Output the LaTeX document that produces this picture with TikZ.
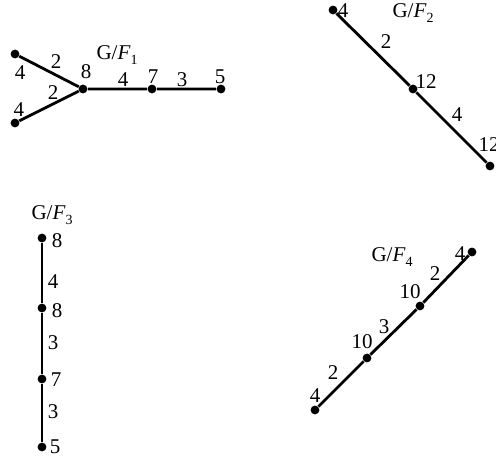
\documentclass[tikz,border=0pt]{standalone}
\usepackage{fontspec}
\setmainfont{Liberation Serif}
\newcommand{\quot}[1]{G/\textit{F}\raisebox{-0.45ex}{\scriptsize #1}}
\begin{document}
\begin{tikzpicture}[
		x=0.5pt, y=-0.5pt,
		every node/.style={font=\fontsize{10.5}{12}\selectfont, inner sep=0pt},
		vert/.style={circle, fill=black, minimum size=4.4pt},
		edge/.style={line width=1.4pt},
		lbl/.style={anchor=center}
		]
		\useasboundingbox (0,0) rectangle (496,458);
		
		% Top Left: G/F1
		\node[vert] (a1) at (15,54) {};
		\node[vert] (a2) at (15,123) {};
		\node[vert] (a3) at (83,89) {};
		\node[vert] (a4) at (152,89) {};
		\node[vert] (a5) at (221,89) {};
		\draw[edge] (a1) -- (a3) (a2) -- (a3) (a3) -- (a4) -- (a5);
		\node[lbl] (t1) at (117,55) {\quot{1}};
		\node[lbl] (a1w) at (20,73) {4};
		\node[lbl] (a2w) at (19,110) {4};
		\node[lbl] (a3w) at (86,72) {8};
		\node[lbl] (a4w) at (153,77) {7};
		\node[lbl] (a5w) at (220,77) {5};
		\node[lbl] (e13) at (56,62) {2};
		\node[lbl] (e23) at (53,93) {2};
		\node[lbl] (e34) at (123,80) {4};
		\node[lbl] (e45) at (182,80) {3};
		
		% Top Right: G/F2
		\node[vert] (b1) at (333,10) {};
		\node[vert] (b2) at (413,89) {};
		\node[vert] (b3) at (490,166) {};
		\draw[edge] (b1) -- (b2) -- (b3);
		\node[lbl] (t2) at (413,13) {\quot{2}};
		\node[lbl] (b1w) at (343,11) {4};
		\node[lbl] (b2w) at (426,82) {12};
		\node[lbl] (b3w) at (489,145) {12};
		\node[lbl] (e12) at (386,42) {2};
		\node[lbl] (e23b) at (457,115) {4};
		
		% Bottom Left: G/F3
		\node[vert] (c1) at (42,238) {};
		\node[vert] (c2) at (42,308) {};
		\node[vert] (c3) at (42,379) {};
		\node[vert] (c4) at (42,447) {};
		\draw[edge] (c1) -- (c2) -- (c3) -- (c4);
		\node[lbl] (t3) at (52,215) {\quot{3}};
		\node[lbl] (c1w) at (57,241) {8};
		\node[lbl] (c2w) at (57,311) {8};
		\node[lbl] (c3w) at (56,380) {7};
		\node[lbl] (c4w) at (55,447) {5};
		\node[lbl] (f12) at (53,282) {4};
		\node[lbl] (f23) at (53,343) {3};
		\node[lbl] (f34) at (53,412) {3};
		
		% Bottom Right: G/F4
		\node[vert] (d1) at (472,252) {};
		\node[vert] (d2) at (420,306) {};
		\node[vert] (d3) at (367,358) {};
		\node[vert] (d4) at (315,410) {};
		\draw[edge] (d1) -- (d2) -- (d3) -- (d4);
		\node[lbl] (t4) at (392,257) {\quot{4}};
		\node[lbl] (d1w) at (460,254) {4};
		\node[lbl] (d2w) at (410,292) {10};
		\node[lbl] (d3w) at (362,342) {10};
		\node[lbl] (d4w) at (315,396) {4};
		\node[lbl] (g12) at (435,274) {2};
		\node[lbl] (g23) at (384,327) {3};
		\node[lbl] (g34) at (333,373) {2};
		
	\end{tikzpicture}
\end{document}
